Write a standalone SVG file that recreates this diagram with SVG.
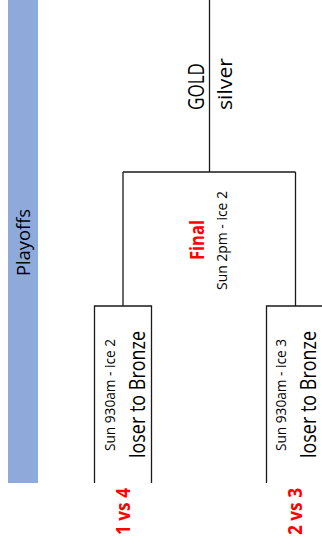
<svg xmlns="http://www.w3.org/2000/svg" width="322" height="551" viewBox="0 0 322 551">
<style>
  .t { font-family: "Open Sans", "Liberation Sans", sans-serif; fill: #000; }
  .r { font-family: "Open Sans", "Liberation Sans", sans-serif; fill: #ff0000; font-weight: bold; }
  .ln { fill: none; stroke: #1a1a1a; stroke-width: 1.3; }
</style>
<rect id="band" x="8" y="0" width="30" height="483" fill="#8eaadb"/>
<text class="t" font-size="18" transform="translate(30,276) rotate(-90)" textLength="67" lengthAdjust="spacingAndGlyphs">Playoffs</text>

<g id="connectors">
  <path class="ln" d="M209.5,0 V172"/>
  <path class="ln" d="M123,172 H295.5"/>
  <path class="ln" d="M123,172 V306"/>
  <path class="ln" d="M295.5,172 V306"/>
</g>

<g id="result">
  <text class="t" font-size="21" transform="translate(204,110) rotate(-90)" textLength="47" lengthAdjust="spacingAndGlyphs">GOLD</text>
  <text class="t" font-size="20" transform="translate(232,110) rotate(-90)" textLength="52" lengthAdjust="spacingAndGlyphs">silver</text>
</g>

<g id="final">
  <text class="r" font-size="20" transform="translate(203.5,260) rotate(-90)" textLength="40" lengthAdjust="spacingAndGlyphs">Final</text>
  <text class="t" font-size="14" transform="translate(227,290) rotate(-90)" textLength="99" lengthAdjust="spacingAndGlyphs">Sun 2pm - ice 2</text>
</g>

<g id="semi1">
  <path class="ln" d="M94.5,483 V306 H151.5 V483"/>
  <text class="t" font-size="15" transform="translate(115,451) rotate(-90)" textLength="112" lengthAdjust="spacingAndGlyphs">Sun 930am - ice 2</text>
  <text class="t" font-size="21" transform="translate(145,458) rotate(-90)" textLength="127" lengthAdjust="spacingAndGlyphs">loser to Bronze</text>
  <text class="r" font-size="19" transform="translate(130,535) rotate(-90)" textLength="47" lengthAdjust="spacingAndGlyphs">1 vs 4</text>
</g>

<g id="semi2">
  <path class="ln" d="M266.5,483 V306 H324 V483"/>
  <text class="t" font-size="15" transform="translate(286,451) rotate(-90)" textLength="112" lengthAdjust="spacingAndGlyphs">Sun 930am - ice 3</text>
  <text class="t" font-size="21" transform="translate(316,458) rotate(-90)" textLength="127" lengthAdjust="spacingAndGlyphs">loser to Bronze</text>
  <text class="r" font-size="19" transform="translate(302,535) rotate(-90)" textLength="47" lengthAdjust="spacingAndGlyphs">2 vs 3</text>
</g>
</svg>
